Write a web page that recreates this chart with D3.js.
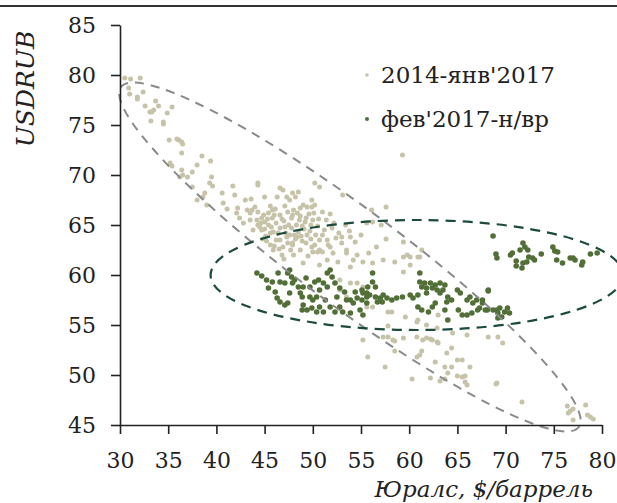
<!DOCTYPE html>
<html>
<head>
<meta charset="utf-8">
<script src="https://cdn.jsdelivr.net/npm/d3@7"></script>
<style>
body { margin: 0; background: #fff; }
svg { display: block; }
</style>
</head>
<body>
<script>
// Юралс ($/баррель) vs USDRUB
var seriesNames = ["2014-янв'2017", "фев'2017-н/вр"];
var xTicks = [30, 35, 40, 45, 50, 55, 60, 65, 70, 75, 80];
var yTicks = [45, 50, 55, 60, 65, 70, 75, 80, 85];

// 2014 - янв'2017
var oldPeriod = [
  [30.5,79.7],[31.1,79.6],[32.1,79.7],[30.9,78.7],[31.0,78.1],[32.4,78.3],[31.8,77.8],[31.8,77.6],
  [32.6,76.9],[33.7,77.4],[34.0,76.9],[33.3,76.3],[33.1,76.3],[33.5,76.5],[35.4,76.8],[34.9,76.2],
  [33.2,75.4],[34.5,75.3],[34.5,75.1],[35.1,73.5],[35.9,73.6],[36.1,73.5],[36.4,73.3],[36.5,73.1],
  [36.4,72.2],[38.5,71.9],[39.4,71.4],[38.0,71.0],[35.2,71.2],[35.4,70.9],[36.4,70.5],[36.5,70.0],
  [37.0,69.8],[37.5,70.3],[36.2,69.8],[39.5,69.8],[39.3,69.2],[39.6,68.9],[41.7,68.9],[37.5,68.8],
  [38.8,68.2],[38.6,67.8],[38.0,67.5],[39.0,67.0],[40.6,68.2],[40.7,67.2],[41.1,66.6],[41.9,68.0],
  [42.2,66.7],[43.0,67.5],[44.3,69.0],[45.0,67.8],[42.1,66.2],[43.2,66.5],[43.5,66.2],[43.7,66.5],
  [42.4,65.7],[43.5,65.5],[42.8,65.2],[44.2,65.5],[43.8,64.5],[44.5,64.8],[45.0,65.3],[45.4,66.2],
  [45.8,66.5],[46.3,67.8],[46.6,68.7],[46.9,68.5],[47.3,67.8],[47.6,67.5],[48.2,67.8],[48.5,68.3],
  [48.7,66.7],[49.0,67.0],[49.4,66.8],[49.9,67.5],[50.2,67.0],[45.6,63.0],[45.9,62.5],[46.9,62.8],
  [47.9,63.2],[48.7,62.5],[49.9,62.8],[47.6,64.0],[48.4,63.8],[49.4,64.0],[46.6,63.5],
  [44.3,66.3],[44.7,65.7],[45.4,65.0],[45.8,65.7],[46.2,65.2],[46.6,66.0],[47.0,65.4],[47.4,66.3],
  [47.8,65.7],[48.3,65.0],[48.7,65.9],[49.2,65.3],[49.6,66.1],[50.0,65.5],[50.5,64.9],[44.7,64.5],
  [45.1,63.9],[45.9,64.3],[46.6,64.7],[47.2,64.2],[47.8,64.7],[48.5,64.3],[49.1,64.6],[49.7,64.4],
  [50.3,64.0],[50.7,63.5],[46.2,63.5],[47.4,63.2],[48.9,63.4],[44.3,65.0],[44.9,66.0],[45.6,66.9],
  [47.1,66.9],[48.0,66.5],[51.0,66.3],[51.4,65.5],[51.8,66.1],[51.2,64.5],[52.0,64.7],[52.4,63.7],
  [50.5,62.3],[49.5,61.9],[44.3,69.2],[47.9,68.2],[50.2,69.2],
  [44.6,65.2],[45.0,64.6],[45.3,65.6],[45.7,64.8],[46.0,66.0],[46.4,64.2],[46.8,65.6],[47.1,64.8],
  [47.5,65.0],[47.9,66.0],[48.1,64.0],[48.6,65.5],[48.9,64.9],[49.3,65.7],[49.8,65.0],[50.1,66.2],
  [50.6,65.6],[45.2,63.4],[45.6,64.2],[46.0,62.9],[46.5,62.6],[47.3,63.8],[47.7,62.5],[48.2,63.6],
  [48.8,63.9],[49.3,63.2],[49.8,63.6],[50.2,63.0],[51.0,64.0],[51.6,63.0],[52.2,65.2],[52.7,64.2],
  [53.4,65.0],[53.8,64.4],[54.4,63.3],[55.0,64.0],[54.2,61.5],[55.8,62.2],[56.6,62.8],[57.6,63.6],
  [44.0,66.8],[43.6,67.6],[46.1,66.6],[48.4,66.2],[49.9,66.8],[44.8,63.6],[47.0,61.6],[48.0,62.0],
  [59.3,72.0],[50.7,68.8],[53.1,68.0],[57.6,66.8],[56.1,66.5],[55.6,65.2],[57.1,65.0],[56.2,65.3],
  [59.4,63.3],[61.3,62.5],[53.0,63.8],[53.9,63.8],[53.0,63.2],[51.5,63.5],[51.8,62.8],[50.0,62.3],
  [50.7,62.5],[53.5,62.5],[54.6,62.0],[52.1,62.2],[59.8,62.0],[60.1,61.8],[60.9,61.8],
  [46.8,62.0],[47.9,63.0],[49.0,61.2],[51.0,62.3],[51.5,61.5],[50.7,61.0],[52.6,61.3],[53.5,62.2],
  [53.9,60.8],[52.8,59.5],[53.9,59.2],[54.6,59.2],[55.2,58.8],[52.8,58.5],[53.5,57.8],[55.2,53.5],
  [55.2,61.3],[56.2,61.2],[57.3,61.5],[58.5,61.3],[59.4,61.8],[60.1,61.0],[59.4,60.3],[61.1,61.8],
  [55.6,56.8],[56.2,56.8],[57.8,56.3],[58.2,56.3],[59.6,55.8],[60.9,55.5],[61.8,55.0],[63.0,56.0],
  [57.3,53.8],[58.3,53.5],[59.4,53.7],[61.8,53.7],[62.4,53.5],[63.0,53.2],[66.0,54.0],[68.2,53.8],
  [69.2,53.8],[55.7,51.8],[57.5,50.8],[60.3,49.6],[57.8,53.8],[58.5,53.4],[58.5,52.4],[60.8,53.8],
  [61.4,53.5],[62.2,53.6],[62.9,53.3],[61.1,52.0],[60.8,51.8],[61.3,52.4],[63.9,52.2],[64.4,52.7],
  [62.7,51.3],[63.7,50.8],[64.4,50.8],[65.0,51.5],[65.5,51.5],[66.3,50.8],[64.0,50.2],[65.0,49.9],
  [65.5,49.8],[65.8,49.9],[62.2,49.7],[63.2,49.4],[63.7,49.6],[65.8,49.3],[66.0,49.0],[69.1,49.2],
  [69.7,53.2],[57.8,54.9],[60.8,55.3],[62.9,54.7],[64.5,54.2],
  [69.0,49.1],[71.7,47.3],[76.4,46.9],[76.7,46.4],[76.5,46.2],[77.0,46.6],[78.3,47.0],[78.5,46.0],
  [79.1,45.6],[77.0,45.5],[78.8,45.8]
];

// фев'2017 - н/вр
var newPeriod = [
  [44.2,60.2],[44.7,59.9],[45.2,59.5],[45.4,58.7],[45.8,59.3],[46.4,60.2],[46.6,59.3],[47.1,59.2],
  [47.4,60.2],[47.6,60.5],[47.8,59.8],[47.9,59.2],[48.5,58.8],[49.0,58.8],[48.9,57.8],[47.6,58.2],
  [46.1,58.3],[46.3,57.7],[46.6,57.3],[47.1,57.0],[47.4,57.2],[49.0,57.0],[49.4,56.5],[48.9,56.5],
  [49.9,56.7],[50.0,57.5],[50.4,57.8],[50.7,58.5],[51.1,59.2],[51.5,60.2],[51.8,60.5],[52.0,59.8],
  [51.5,58.8],[51.3,57.5],[50.7,56.8],[51.1,56.3],[50.4,56.3],[51.8,56.8],[52.3,56.3],[52.8,56.8],
  [53.1,56.3],[53.9,56.2],[54.2,57.2],[53.5,57.5],[54.6,57.7],[54.9,56.5],[55.2,56.0],[55.6,58.2],
  [55.1,58.5],[55.7,58.8],[52.5,57.8],[52.8,58.7],[50.2,59.3],[49.7,58.8],[48.1,59.5],[49.3,59.7],
  [48.7,58.2],[49.7,57.8],[50.6,59.5],[52.3,59.2],[53.3,58.3],[53.9,57.5],[54.4,58.3],
  [56.2,60.2],[56.2,59.3],[56.5,58.8],[55.2,58.2],[55.6,57.8],[55.9,58.0],[56.5,57.8],[57.0,57.7],
  [57.3,58.0],[57.7,57.7],[58.2,57.5],[58.7,57.7],[59.3,57.8],[55.6,57.2],[55.1,57.5],[56.7,57.3],
  [57.2,57.3],[60.1,58.0],[60.4,57.7],[60.9,58.0],[61.1,60.2],[61.1,59.3],[61.6,59.2],[62.2,59.2],
  [62.7,59.0],[63.2,59.2],[63.7,59.0],[63.5,58.5],[62.9,58.5],[62.4,58.7],[61.8,58.7],[61.3,58.8],
  [63.2,58.2],[61.8,58.2],[60.9,56.8],[61.3,56.5],[62.0,56.3],[62.4,56.8],[62.7,57.2],[63.9,57.3],
  [64.0,57.8],[63.7,56.5],[64.4,57.5],[65.0,58.5],[65.3,58.2],[65.1,56.5],[66.0,57.5],[66.3,57.8],
  [66.6,57.2],[67.0,57.5],[67.1,56.5],[66.5,56.2],[66.0,56.0],[65.5,56.0],[67.6,57.2],[68.1,56.5],
  [68.2,58.5],[69.1,56.5],[69.2,56.2],[64.0,55.5],[67.3,56.7],
  [68.7,63.9],[69.0,62.1],[69.1,61.7],[70.5,62.0],[70.7,62.2],[71.1,61.4],[71.1,60.9],[71.5,62.5],
  [71.8,63.2],[72.0,62.8],[72.3,62.5],[72.4,61.8],[72.2,61.3],[71.8,61.2],[71.7,60.7],[72.8,61.7],
  [73.0,61.5],[73.7,62.1],[74.9,62.8],[75.1,62.4],[75.4,62.3],[75.3,61.5],[75.9,61.2],[76.7,61.7],
  [77.0,61.7],[77.2,61.5],[77.9,61.0],[78.0,61.3],[78.8,62.1],[79.5,62.2],
  [68.2,58.4],[67.6,57.5],[67.9,56.5],[68.7,56.5],[69.4,56.7],[69.6,55.8],[69.9,56.3],[70.2,56.7],
  [70.4,56.2],[69.2,55.7]
];

// outline ellipses, in data units: two tips + half width (px) / centre + radii
var oldEllipse = { tipA: [30.1, 78.8], tipB: [77.6, 44.8], halfWidth: 49 };
var newEllipse = { center: [60.8, 60.0], rx: 21.4, ry: 5.5 };

var W = 617, H = 503;
var margin = { left: 120, right: 15, top: 25, bottom: 78 };

var svg = d3.select("body").append("svg")
    .attr("width", W)
    .attr("height", H);

var x = d3.scaleLinear().domain([30, 80]).range([margin.left, W - margin.right]);
var y = d3.scaleLinear().domain([45, 85]).range([H - margin.bottom, margin.top]);

var font = "'DejaVu Serif', serif";
var ink = "#222";
var oldColor = "#c6c3a9";
var newColor = "#516f37";

// top rule
svg.append("line")
    .attr("x1", 0).attr("x2", W)
    .attr("y1", 6).attr("y2", 6)
    .attr("stroke", "#333")
    .attr("stroke-width", 2);

// points
svg.append("g").selectAll("circle")
    .data(oldPeriod)
    .enter()
    .append("circle")
    .attr("cx", d => x(d[0]))
    .attr("cy", d => y(d[1]))
    .attr("r", 2.5)
    .attr("fill", oldColor);

svg.append("g").selectAll("circle")
    .data(newPeriod)
    .enter()
    .append("circle")
    .attr("cx", d => x(d[0]))
    .attr("cy", d => y(d[1]))
    .attr("r", 2.8)
    .attr("fill", newColor);

// gray ellipse (rotated)
var ax = x(oldEllipse.tipA[0]), ay = y(oldEllipse.tipA[1]);
var bx = x(oldEllipse.tipB[0]), by = y(oldEllipse.tipB[1]);
var gcx = (ax + bx) / 2, gcy = (ay + by) / 2;
var grx = Math.hypot(bx - ax, by - ay) / 2;
var gang = Math.atan2(by - ay, bx - ax) * 180 / Math.PI;
svg.append("ellipse")
    .attr("cx", 0).attr("cy", 0)
    .attr("rx", grx).attr("ry", oldEllipse.halfWidth)
    .attr("transform", "translate(" + gcx + "," + gcy + ") rotate(" + gang + ")")
    .attr("fill", "none")
    .attr("stroke", "#8a8a8a")
    .attr("stroke-width", 2)
    .attr("stroke-dasharray", "9,7");

// green ellipse
svg.append("ellipse")
    .attr("cx", x(newEllipse.center[0]))
    .attr("cy", y(newEllipse.center[1]))
    .attr("rx", x(30 + newEllipse.rx) - x(30))
    .attr("ry", y(45) - y(45 + newEllipse.ry))
    .attr("fill", "none")
    .attr("stroke", "#1c4a3b")
    .attr("stroke-width", 2.2)
    .attr("stroke-dasharray", "10,7");

// axes
var xAxis = svg.append("g")
    .attr("transform", "translate(0," + y(45) + ")")
    .call(d3.axisBottom(x).tickValues(xTicks).tickSizeInner(9).tickSizeOuter(0).tickPadding(18));

var yAxis = svg.append("g")
    .attr("transform", "translate(" + x(30) + ",0)")
    .call(d3.axisLeft(y).tickValues(yTicks).tickSizeInner(9).tickSizeOuter(0).tickPadding(15));

[xAxis, yAxis].forEach(function (g) {
  g.select(".domain").attr("stroke", ink).attr("stroke-width", 1.6);
  g.selectAll(".tick line").attr("stroke", ink).attr("stroke-width", 1.6);
  g.selectAll(".tick text")
    .attr("fill", ink)
    .style("font-family", font)
    .style("font-size", "22px");
});

// axis titles
svg.append("text")
    .attr("transform", "translate(34," + 89 + ") rotate(-90)")
    .attr("text-anchor", "middle")
    .style("font-family", font)
    .style("font-style", "italic")
    .style("font-size", "25px")
    .attr("fill", ink)
    .text("USDRUB");

svg.append("text")
    .attr("x", 593)
    .attr("y", 497)
    .attr("text-anchor", "end")
    .style("font-family", font)
    .style("font-style", "italic")
    .style("font-size", "23px")
    .attr("fill", ink)
    .text("Юралс, $/баррель");

// legend
var legend = svg.append("g").selectAll("g")
    .data(seriesNames)
    .enter()
    .append("g")
    .attr("transform", (d, i) => "translate(367," + (75 + i * 44) + ")");

legend.append("circle")
    .attr("r", (d, i) => i == 0 ? 1.8 : 2)
    .attr("fill", (d, i) => i == 0 ? oldColor : newColor);

legend.append("text")
    .attr("x", 14)
    .attr("y", 8)
    .style("font-family", font)
    .style("font-size", "23px")
    .attr("fill", ink)
    .text(d => d);
</script>
</body>
</html>
